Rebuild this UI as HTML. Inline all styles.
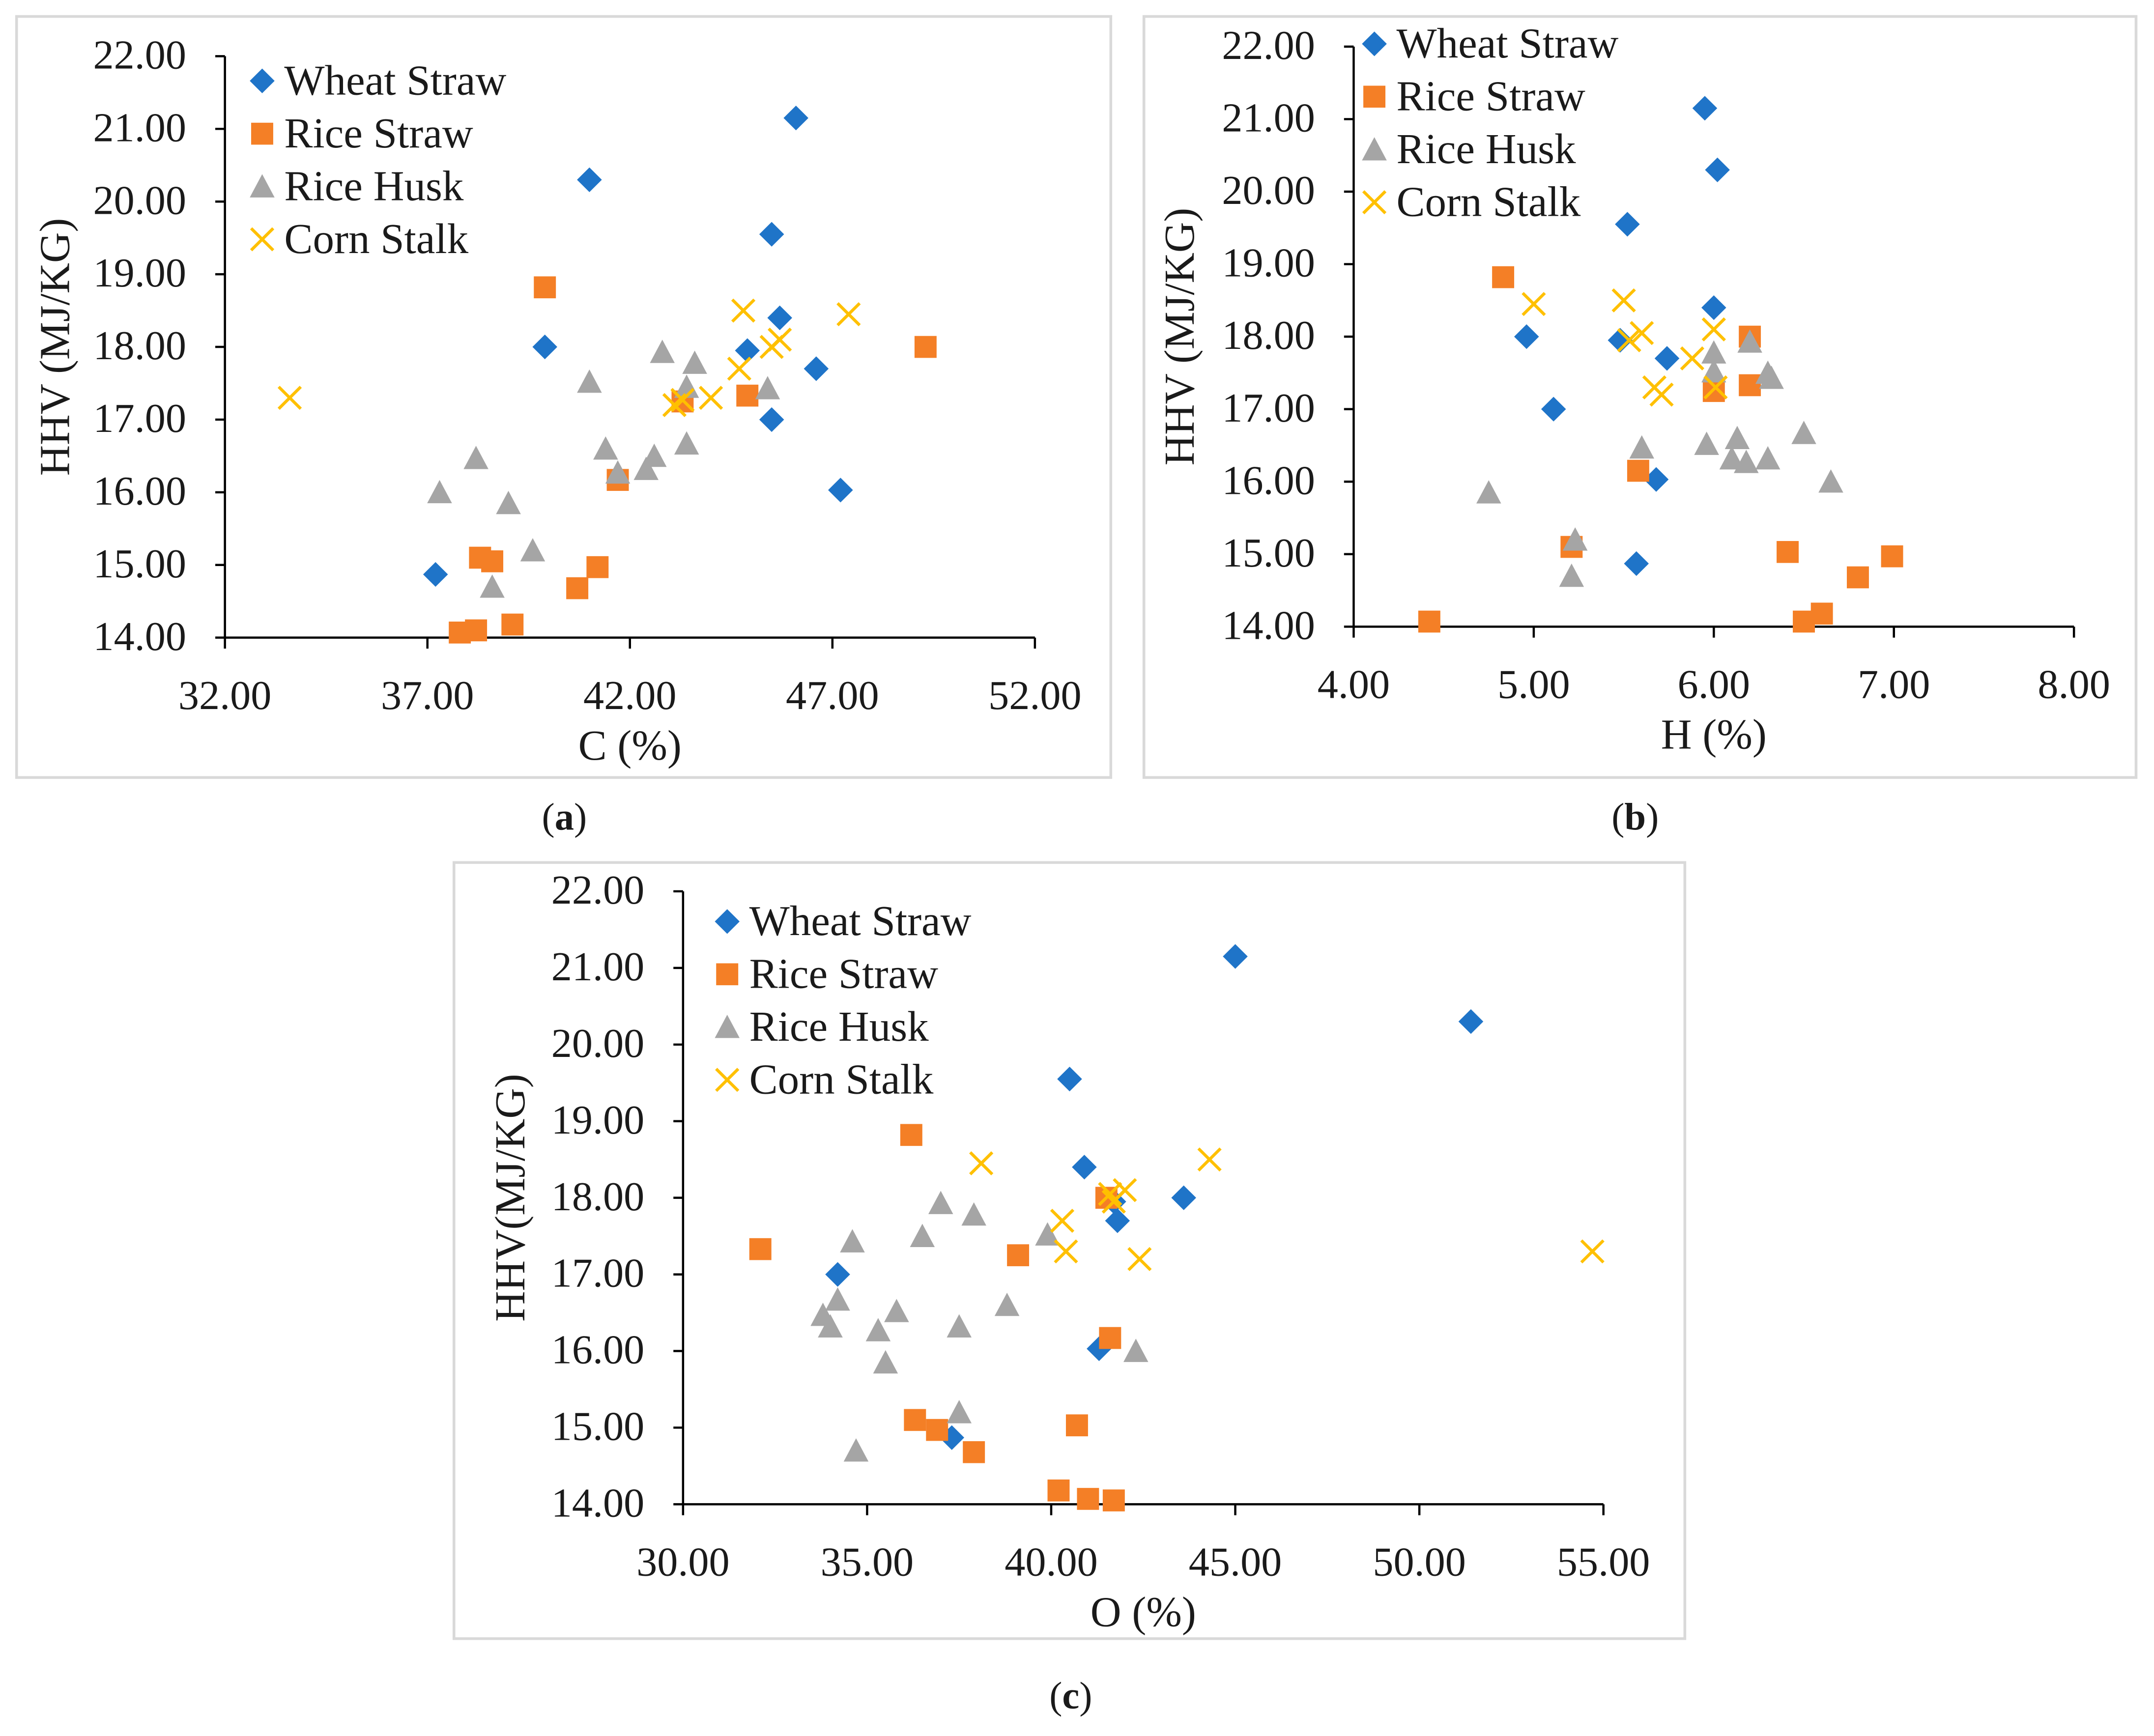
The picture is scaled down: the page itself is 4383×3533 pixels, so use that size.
<!DOCTYPE html>
<html><head><meta charset="utf-8">
<style>
html,body{margin:0;padding:0;background:#fff;}
svg{display:block;}
text{font-family:"Liberation Serif",serif;fill:#1a1a1a;}
</style></head>
<body>
<svg id="root" width="4383" height="3533" viewBox="0 0 1561 1266" preserveAspectRatio="none" xmlns="http://www.w3.org/2000/svg"></svg>
<script>
// ---- Panel (a): C (%) ----
const aWheatX=[37.2,39.9,41.0,44.9,45.5,45.5,45.7,46.1,46.6,47.2];
const aWheatY=[14.87,18.0,20.3,17.95,19.55,17.0,18.4,21.15,17.7,16.03];
const aStrawX=[37.8,38.2,38.3,38.6,39.1,39.9,40.7,41.2,41.7,43.3,44.9,49.3];
const aStrawY=[14.07,14.1,15.1,15.05,14.18,18.82,14.68,14.97,16.17,17.25,17.33,18.0];
const aHuskX=[37.3,38.2,38.6,39.0,39.6,41.0,41.4,41.7,42.4,42.6,42.8,43.4,43.4,43.6,45.4];
const aHuskY=[16.0,16.47,14.7,15.85,15.2,17.52,16.6,16.27,16.32,16.5,17.93,16.67,17.45,17.78,17.43];
const aCornX=[33.6,43.1,43.3,44.0,44.7,44.8,45.5,45.7,47.4];
const aCornY=[17.3,17.2,17.27,17.3,17.7,18.5,18.0,18.1,18.45];
const aXTicks=[32,37,42,47,52];
// ---- Panel (b): H (%) ----
const bWheatX=[4.96,5.11,5.48,5.52,5.57,5.68,5.74,5.95,6.0,6.02];
const bWheatY=[18.0,17.0,17.95,19.55,14.87,16.03,17.7,21.15,18.4,20.3];
const bStrawX=[4.42,4.83,5.21,5.58,6.0,6.2,6.2,6.41,6.5,6.6,6.8,6.99];
const bStrawY=[14.07,18.82,15.1,16.15,17.25,18.0,17.33,15.03,14.07,14.18,14.68,14.97];
const bHuskX=[4.75,5.21,5.23,5.6,5.96,6.0,6.0,6.1,6.13,6.18,6.2,6.3,6.32,6.3,6.5,6.65];
const bHuskY=[15.85,14.7,15.2,16.47,16.52,17.78,17.52,16.32,16.6,16.27,17.93,17.5,17.43,16.32,16.67,16.0];
const bCornX=[5.0,5.5,5.53,5.6,5.67,5.71,5.88,6.0,6.01];
const bCornY=[18.45,18.5,17.95,18.05,17.3,17.2,17.7,18.1,17.3];
const bXTicks=[4,5,6,7,8];
// ---- Panel (c): O (%) ----
const cWheatX=[34.2,37.3,40.5,40.9,41.3,41.7,41.8,43.6,45.0,51.4];
const cWheatY=[17.0,14.87,19.55,18.4,16.03,17.95,17.7,18.0,21.15,20.3];
const cStrawX=[32.1,36.2,36.3,36.9,37.9,39.1,40.2,40.7,41.0,41.5,41.6,41.7];
const cStrawY=[17.33,18.82,15.1,14.97,14.68,17.25,14.18,15.03,14.07,18.0,16.17,14.05];
const cHuskX=[33.8,34.0,34.2,34.6,34.7,35.3,35.5,35.8,36.5,37.0,37.5,37.5,37.9,38.8,39.9,42.3];
const cHuskY=[16.47,16.32,16.67,17.43,14.7,16.27,15.85,16.52,17.5,17.93,16.32,15.2,17.78,16.6,17.52,16.0];
const cCornX=[38.1,40.3,40.4,41.6,41.7,42.0,42.4,44.3,54.7];
const cCornY=[18.45,17.7,17.3,18.05,17.95,18.1,17.2,18.5,17.3];
const cXTicks=[30,35,40,45,50,55];
const yTicks=[14,15,16,17,18,19,20,21,22];
const seriesNames=["Wheat Straw","Rice Straw","Rice Husk","Corn Stalk"];

const NS="http://www.w3.org/2000/svg";
const root=document.getElementById('root');
function mk(tag,attrs,parent){const e=document.createElementNS(NS,tag);for(const k in attrs)e.setAttribute(k,attrs[k]);(parent||root).appendChild(e);return e;}

function marker(g,kind,x,y){
  let e;
  if(kind===0){e=mk('polygon',{points:`${x},${y-9} ${x+9},${y} ${x},${y+9} ${x-9},${y}`,fill:'#1F74C8'},g);}
  else if(kind===1){e=mk('rect',{x:x-8,y:y-8,width:16,height:16,fill:'#F47F26'},g);}
  else if(kind===2){e=mk('polygon',{points:`${x},${y-9} ${x+9},${y+8} ${x-9},${y+8}`,fill:'#A5A5A5'},g);}
  else {e=mk('path',{d:`M${x-8},${y-8}L${x+8},${y+8}M${x-8},${y+8}L${x+8},${y-8}`,stroke:'#FFC000','stroke-width':2.2,fill:'none'},g);}
  return e;
}

function panel(cfg){
  const g=mk('g',{});
  
  
  const fr=mk('rect',{x:cfg.box[0],y:cfg.box[1],width:cfg.box[2],height:cfg.box[3],fill:'#fff',stroke:'#D9D9D9','stroke-width':2},g);
  
  
  const sx=v=>cfg.x0+(v-cfg.xmin)/(cfg.xmax-cfg.xmin)*(cfg.x1-cfg.x0);
  const sy=v=>cfg.y0-(v-14)/8*(cfg.y0-cfg.y1);
  const ax=mk('line',{x1:cfg.x0,y1:cfg.y0,x2:cfg.x1,y2:cfg.y0,stroke:'#000','stroke-width':1.6},g);
  
  
  const ay=mk('line',{x1:cfg.x0,y1:cfg.y0,x2:cfg.x0,y2:cfg.y1,stroke:'#000','stroke-width':1.6},g);
  
  
  cfg.xt.forEach(t=>{
    mk('line',{x1:sx(t),y1:cfg.y0,x2:sx(t),y2:cfg.y0+8,stroke:'#000','stroke-width':1.6},g);
    const tx=mk('text',{x:sx(t),y:cfg.y0+52,'text-anchor':'middle','font-size':30},g);
    tx.textContent=t.toFixed(2);
    
    
  });
  yTicks.forEach(t=>{
    mk('line',{x1:cfg.x0-7,y1:sy(t),x2:cfg.x0,y2:sy(t),stroke:'#000','stroke-width':1.6},g);
    const tx=mk('text',{x:cfg.x0-28,y:sy(t)+9,'text-anchor':'end','font-size':30},g);
    tx.textContent=t.toFixed(2);
    
    
  });
  const xt=mk('text',{x:(cfg.x0+cfg.x1)/2,y:cfg.y0+89,'text-anchor':'middle','font-size':31},g);
  xt.textContent=cfg.xlabel;
  
  
  const yt=mk('text',{x:0,y:0,'text-anchor':'middle','font-size':31,transform:`translate(${cfg.ylx},${(cfg.y0+cfg.y1)/2}) rotate(-90)`},g);
  yt.textContent=cfg.ylabel;
  
  
  cfg.series.forEach((s,k)=>{
    s[0].forEach((xv,i)=>{
      const m=marker(g,k,sx(xv),sy(s[1][i]));
      
      
    });
  });
  seriesNames.forEach((n,k)=>{
    const ly=cfg.leg[1]+k*38.5;
    const m=marker(g,k,cfg.leg[0],ly);
    
    
    const t=mk('text',{x:cfg.leg[0]+16,y:ly+10,'font-size':31},g);
    t.textContent=n;
    
    
  });
  const cap=mk('text',{x:cfg.cap[0],y:cfg.cap[1],'text-anchor':'middle','font-size':28},g);
  cap.innerHTML='(<tspan font-weight="bold">'+cfg.capLetter+'</tspan>)';
  
  
}

panel({name:'chart-c-content',box:[12,12,793,555],x0:163,x1:750,y0:465,y1:41,xmin:32,xmax:52,xt:aXTicks,
  xlabel:'C (%)',ylabel:'HHV (MJ/KG)',ylx:50,leg:[190,59],cap:[409,605],capLetter:'a',
  series:[[aWheatX,aWheatY],[aStrawX,aStrawY],[aHuskX,aHuskY],[aCornX,aCornY]]});
panel({name:'chart-h-content',box:[829,12,719,555],x0:981,x1:1503,y0:457,y1:34,xmin:4,xmax:8,xt:bXTicks,
  xlabel:'H (%)',ylabel:'HHV (MJ/KG)',ylx:865,leg:[996,32],cap:[1185,605],capLetter:'b',
  series:[[bWheatX,bWheatY],[bStrawX,bStrawY],[bHuskX,bHuskY],[bCornX,bCornY]]});
panel({name:'chart-o-content',box:[329,629,892,566],x0:495,x1:1162,y0:1097,y1:650,xmin:30,xmax:55,xt:cXTicks,
  xlabel:'O (%)',ylabel:'HHV(MJ/KG)',ylx:380,leg:[527,672],cap:[776,1246],capLetter:'c',
  series:[[cWheatX,cWheatY],[cStrawX,cStrawY],[cHuskX,cHuskY],[cCornX,cCornY]]});
</script>
</body></html>
